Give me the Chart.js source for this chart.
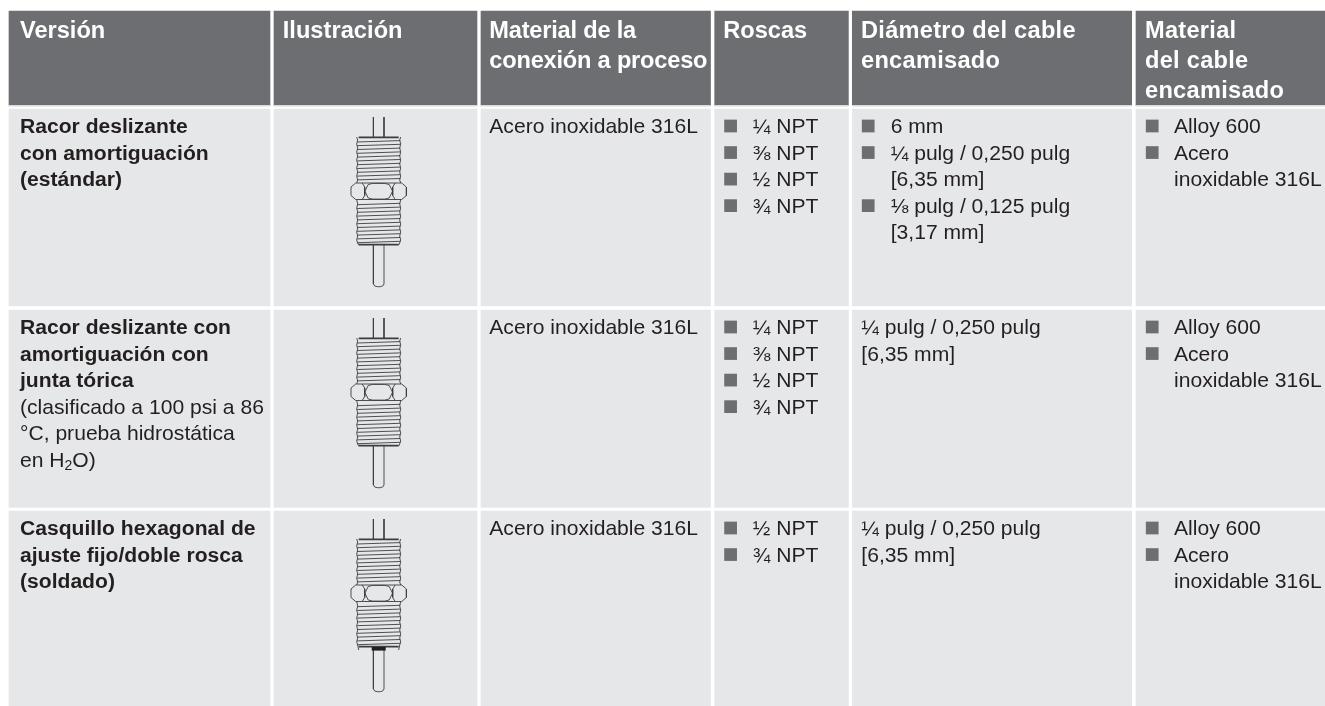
<!DOCTYPE html>
<html lang="es"><head><meta charset="utf-8"><title>Versiones de racor</title>
<style>html,body{margin:0;padding:0;background:#fff}canvas{display:block}</style>
<script src="https://cdn.jsdelivr.net/npm/chart.js@4"></script></head>
<body><canvas id="c" width="1325" height="706"></canvas>
<script>
// ---------- content ----------
const headers = [
  ["Versión"],
  ["Ilustración"],
  ["Material de la", "conexión a proceso"],
  ["Roscas"],
  ["Diámetro del cable", "encamisado"],
  ["Material", "del cable", "encamisado"]
];
const versionBold = [
  ["Racor deslizante", "con amortiguación", "(estándar)"],
  ["Racor deslizante con", "amortiguación con", "junta tórica"],
  ["Casquillo hexagonal de", "ajuste fijo/doble rosca", "(soldado)"]
];
const versionNote = [
  [],
  ["(clasificado a 100 psi a 86", "°C, prueba hidrostática"],
  []
];
const materialProceso = ["Acero inoxidable 316L", "Acero inoxidable 316L", "Acero inoxidable 316L"];
const roscas = [
  ["¼ NPT", "⅜ NPT", "½ NPT", "¾ NPT"],
  ["¼ NPT", "⅜ NPT", "½ NPT", "¾ NPT"],
  ["½ NPT", "¾ NPT"]
];
const diametroBullets = [
  [["6 mm"], ["¼ pulg / 0,250 pulg", "[6,35 mm]"], ["⅛ pulg / 0,125 pulg", "[3,17 mm]"]],
  [],
  []
];
const diametroPlain = [
  [],
  ["¼ pulg / 0,250 pulg", "[6,35 mm]"],
  ["¼ pulg / 0,250 pulg", "[6,35 mm]"]
];
const materialCable = [["Alloy 600"], ["Acero", "inoxidable 316L"]];

// ---------- layout (scale units = table units) ----------
const colEdges = [[9,270],[274,477],[481,710.5],[714.7,848.4],[852.3,1131.7],[1136,1325]];
const rowEdges = [[11,105.3],[105.3,106.2],[109,306],[310,507.3],[511,706]];
const headBase = 37.6, headStep = 30;
const rowBase = [133, 334, 535];
const step = 26.55;
const headX = [20, 282.7, 489.3, 723.3, 861, 1145];
const headTrack = ['0px', '0.05px', '-0.2px', '0px', '0.28px', '0.28px'];
const bulletX = {roscas:730.6, diam:868.2, cable:1152.2};
const textX = {roscas:752.7, diam:890.7, cable:1174};
const COL = {head:'#6d6e71', rule:'#d9dadb', cell:'#e6e7e8', ink:'#231f20', bullet:'#6d6e71', draw:'#3d3d3f'};
const FONT = '"Liberation Sans", Arial, sans-serif';

// fitting drawing, in local units around centre line
const drawCentre = 378.7;
const drawTop = [117, 318, 519];
const upperThreads = [24.3, 28, 31.8, 35.6, 39.4, 43.2, 47, 50.8, 54.6, 58.4, 62.2];
const lowerThreads = [87, 90.8, 94.6, 98.4, 102.2, 106, 109.8, 113.6, 117.4, 121.2, 125];
const cableTop = [[-5.3,0],[-5.3,20]];
const cableTop2 = [[5.3,0],[5.3,20]];
const hexOutline = [[-23,66],[23,66],[27.7,70],[27.7,78.5],[23,82.5],[-23,82.5],[-27.7,78.5],[-27.7,70],[-23,66]];
const hexFacet = [[-13.8,74.2],[-10.5,67.5],[-6,66.4],[6,66.4],[10.5,67.5],[13.8,74.2],[10.5,81],[6,82.1],[-6,82.1],[-10.5,81],[-13.8,74.2]];
const hexArcL = [[-16.5,66],[-14,70],[-14,78.5],[-16.5,82.5]];
const hexArcR = [[16.5,66],[14,70],[14,78.5],[16.5,82.5]];
const upperEdge = [[-22,20],[-21,23],[-22,27],[-21,31],[-22,35],[-21,39],[-22,43],[-21,47],[-22,51],[-21,55],[-22,59],[-21,63],[-22,66]];
const lowerEdge = [[-22,82.5],[-21,87],[-22,91],[-21,95],[-22,99],[-21,103],[-22,107],[-21,111],[-22,115],[-21,119],[-22,123],[-21,126],[-20,128]];
const capTop = [[-20,20.4],[20,20.4]];
const capBottom = [[-20,127.6],[20,127.6]];
const cableEnd = [[-5.3,128],[-5.3,167],[-4,169],[-1.5,169.7],[1.5,169.7],[4,169],[5.3,167],[5.3,128]];
const collar = [[-7,129.8],[7,129.8]];

// ---------- build datasets ----------
const cellSets = colEdges.map(c => ({
  type:'bar', order:3, grouped:false, barThickness:c[1]-c[0],
  backgroundColor:[COL.head, COL.rule, COL.cell, COL.cell, COL.cell], borderWidth:0,
  data: rowEdges.map(r => ({x:(c[0]+c[1])/2, y:[r[0], r[1]]}))
}));

const bulletPts = [];
function addBullet(x, base, line){ bulletPts.push({x, y:base + line*step - 7}); }
roscas.forEach((list, r) => list.forEach((_, i) => addBullet(bulletX.roscas, rowBase[r], i)));
diametroBullets.forEach((list, r) => { let l = 0; list.forEach(item => { addBullet(bulletX.diam, rowBase[r], l); l += item.length; }); });
rowBase.forEach(b => { addBullet(bulletX.cable, b, 0); addBullet(bulletX.cable, b, 1); });

function mapLine(pts, top, extra, mirror){
  const out = pts.map(p => ({x:drawCentre + (mirror ? -p[0] : p[0]), y:top + p[1] + (extra && p[1] >= 128 ? extra : 0)}));
  out.push({x:null, y:null});
  return out;
}
const drawPts = [];
drawTop.forEach((top, r) => {
  const ex = r === 2 ? 3 : 0;
  const add = (p, m) => drawPts.push(...mapLine(p, top, ex, m));
  add(cableTop); add(cableTop2); add(hexOutline); add(hexFacet); add(hexArcL); add(hexArcR);
  add(upperEdge); add(upperEdge, true); add(lowerEdge); add(lowerEdge, true);
  add(cableEnd);
  upperThreads.concat(lowerThreads).forEach(y => add([[-21.5, y+0.7],[21.5, y-0.7]]));
});
const heavyPts = [];
drawTop.forEach(top => {
  [capTop, capBottom].forEach(p => heavyPts.push(...mapLine(p, top, 0)));
});
const collarPts = mapLine(collar, drawTop[2], 0);

// ---------- text plugin ----------
const textPlugin = {
  id:'tableText',
  afterDatasetsDraw(chart){
    const {ctx, scales:{x, y}} = chart;
    const put = (s, ux, uy, font, color) => {
      ctx.font = font; ctx.fillStyle = color;
      ctx.fillText(s, x.getPixelForValue(ux), y.getPixelForValue(uy));
    };
    ctx.save();
    ctx.textBaseline = 'alphabetic'; ctx.textAlign = 'left';
    const H = `bold 23.6px ${FONT}`, B = `bold 21.1px ${FONT}`, R = `21.1px ${FONT}`;
    headers.forEach((lines, c) => {
      ctx.letterSpacing = headTrack[c];
      lines.forEach((s, i) => put(s, headX[c], headBase + i*headStep, H, '#ffffff'));
    });
    ctx.letterSpacing = '0px';
    rowBase.forEach((base, r) => {
      const L = i => base + i*step;
      versionBold[r].forEach((s, i) => put(s, 20, L(i), B, COL.ink));
      versionNote[r].forEach((s, i) => put(s, 20, L(i + versionBold[r].length), R, COL.ink));
      put(materialProceso[r], 489.3, L(0), R, COL.ink);
      roscas[r].forEach((s, i) => put(s, textX.roscas, L(i), R, COL.ink));
      let l = 0;
      diametroBullets[r].forEach(item => item.forEach(s => { put(s, textX.diam, L(l), R, COL.ink); l++; }));
      diametroPlain[r].forEach((s, i) => put(s, 861.3, L(i), R, COL.ink));
      put(materialCable[0][0], textX.cable, L(0), R, COL.ink);
      materialCable[1].forEach((s, i) => put(s, textX.cable, L(i + 1), R, COL.ink));
    });
    // "en H2O)" with a real subscript
    const b = rowBase[1] + 5*step;
    let cx = 20;
    const run = (s, font, dy) => { put(s, cx, b + dy, font, COL.ink); cx += ctx.measureText(s).width; };
    run("en H", R, 0); run("2", `14px ${FONT}`, 3.2); run("O)", R, 0);
    ctx.restore();
  }
};

new Chart(document.getElementById('c'), {
  type:'bar',
  data:{datasets:[
    ...cellSets,
    {type:'scatter', order:1, showLine:false, data:bulletPts, pointStyle:'rect', pointRadius:9, pointBorderWidth:0, backgroundColor:COL.bullet},
    {type:'line', order:1, data:drawPts, borderColor:COL.draw, borderWidth:0.9, pointRadius:0, tension:0, spanGaps:false, fill:false},
    {type:'line', order:1, data:heavyPts, borderColor:COL.draw, borderWidth:1.6, pointRadius:0, tension:0, spanGaps:false, fill:false},
    {type:'line', order:0, data:collarPts, borderColor:'#231f20', borderWidth:3.6, pointRadius:0, tension:0, fill:false}
  ]},
  options:{
    responsive:false, animation:false, events:[],
    layout:{padding:0, autoPadding:false},
    plugins:{legend:{display:false}, tooltip:{enabled:false}, title:{display:false}},
    scales:{
      x:{type:'linear', min:0, max:1325, offset:false, display:false},
      y:{type:'linear', min:0, max:706, reverse:true, display:false}
    }
  },
  plugins:[textPlugin]
});
</script></body></html>
